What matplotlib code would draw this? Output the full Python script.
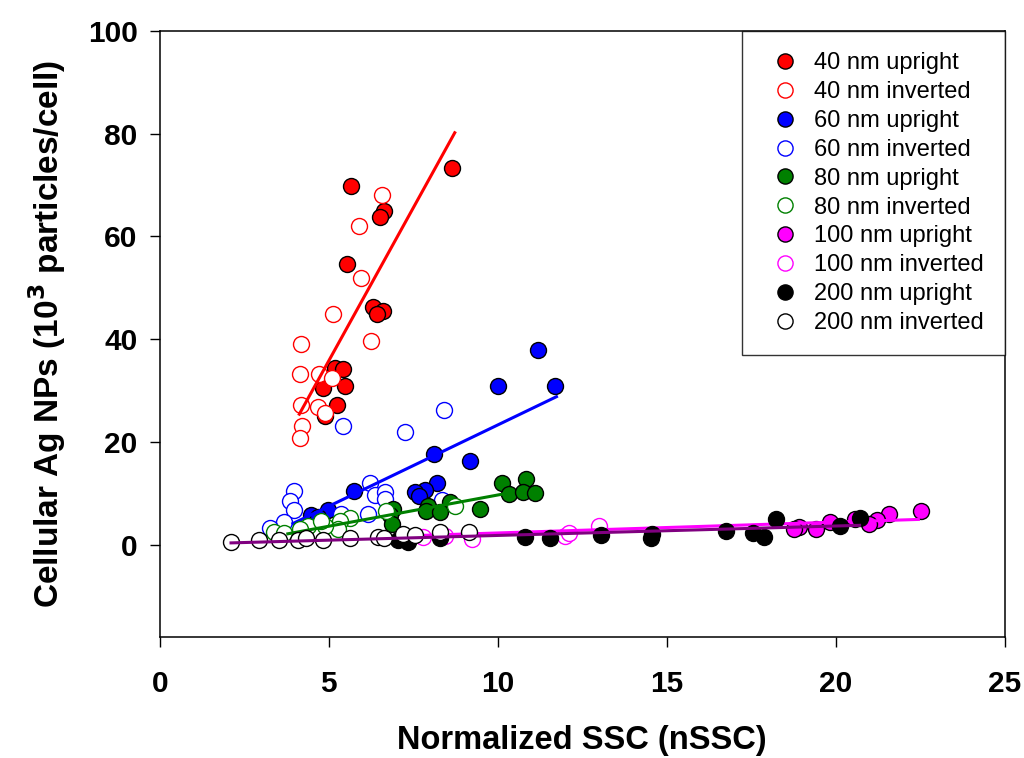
import matplotlib
matplotlib.use("Agg")
import matplotlib.pyplot as plt

plt.rcParams["font.family"] = ["Liberation Sans", "DejaVu Sans"]

# 40 nm
x40_up = [5.67, 8.64, 6.64, 6.53, 5.54, 6.31, 6.61, 6.44, 5.18, 5.42, 4.83, 5.47, 5.25, 4.90]
y40_up = [69.9, 73.3, 64.9, 63.8, 54.6, 46.2, 45.5, 44.9, 34.3, 34.2, 30.4, 30.8, 27.1, 25.0]
x40_inv = [6.59, 5.90, 5.95, 5.13, 6.26, 4.19, 4.14, 4.71, 5.11, 4.19, 4.68, 4.88, 4.21, 4.14]
y40_inv = [68.0, 62.1, 52.0, 45.0, 39.7, 39.0, 33.2, 33.2, 32.4, 27.2, 26.7, 25.6, 23.0, 20.7]
fit40_x = [4.13, 8.73]
fit40_y = [25.4, 80.2]

# 60 nm
x60_up = [11.19, 10.0, 11.69, 8.11, 9.17, 8.19, 7.85, 7.55, 7.67, 5.75, 4.98, 4.48, 4.68]
y60_up = [37.9, 30.9, 30.9, 17.6, 16.3, 12.0, 10.7, 10.2, 9.4, 10.4, 6.7, 5.7, 5.4]
x60_inv = [8.42, 5.42, 7.27, 3.97, 3.84, 3.97, 3.69, 3.25, 6.22, 6.37, 6.66, 6.68, 6.17, 5.37, 8.34]
y60_inv = [26.3, 23.0, 22.0, 10.4, 8.4, 6.7, 4.4, 3.2, 12.0, 9.6, 10.2, 8.9, 6.0, 6.0, 8.6]
fit60_x = [3.94, 11.74]
fit60_y = [4.1, 28.8]

# 80 nm
x80_up = [10.12, 10.84, 10.34, 10.74, 11.11, 9.48, 8.59, 7.95, 7.87, 8.29, 6.91, 6.81, 6.86]
y80_up = [12.0, 12.8, 9.9, 10.2, 10.1, 7.0, 8.3, 7.6, 6.5, 6.3, 7.0, 5.7, 4.1]
x80_inv = [8.74, 6.71, 5.62, 5.32, 5.27, 4.88, 4.38, 4.14, 3.39, 3.69, 4.78]
y80_inv = [7.6, 6.5, 5.2, 4.5, 3.1, 3.7, 3.7, 3.1, 2.5, 2.3, 4.5]
fit80_x = [3.79, 10.12]
fit80_y = [2.1, 9.8]

# 100 nm
x100_up = [22.52, 21.58, 21.23, 21.0, 20.57, 19.82, 19.43, 18.91, 18.78]
y100_up = [6.5, 6.0, 4.7, 4.1, 5.0, 4.4, 3.1, 3.4, 3.1]
x100_inv = [7.8, 8.44, 9.23, 12.0, 12.1, 13.0]
y100_inv = [1.5, 1.6, 1.0, 1.6, 2.2, 3.6]
fit100_x = [7.8, 22.45]
fit100_y = [1.8, 4.9]

# 200 nm
x200_up = [7.06, 7.36, 8.29, 10.82, 11.56, 13.05, 14.58, 14.53, 16.75, 17.55, 17.89, 18.24, 20.12, 20.71]
y200_up = [0.8, 0.5, 1.2, 1.5, 1.3, 1.8, 2.1, 1.2, 2.6, 2.3, 1.5, 4.9, 3.7, 5.2]
x200_inv = [2.11, 2.95, 3.54, 4.09, 4.33, 4.83, 5.62, 6.46, 6.65, 7.21, 7.55, 8.29, 9.14]
y200_inv = [0.5, 0.8, 0.8, 0.8, 1.2, 0.8, 1.2, 1.5, 1.3, 2.1, 1.8, 2.5, 2.5]
fit200_x = [2.11, 20.71]
fit200_y = [0.33, 3.75]

groups = [
    ("40 nm", "#ff0000", "#ff0000", x40_up, y40_up, x40_inv, y40_inv, fit40_x, fit40_y),
    ("60 nm", "#0000ff", "#0000ff", x60_up, y60_up, x60_inv, y60_inv, fit60_x, fit60_y),
    ("80 nm", "#008000", "#008000", x80_up, y80_up, x80_inv, y80_inv, fit80_x, fit80_y),
    ("100 nm", "#ff00ff", "#ff00ff", x100_up, y100_up, x100_inv, y100_inv, fit100_x, fit100_y),
    ("200 nm", "#000000", "#800080", x200_up, y200_up, x200_inv, y200_inv, fit200_x, fit200_y),
]

fig = plt.figure(figsize=(10.24, 7.58), dpi=100)
ax = fig.add_axes([0.156, 0.1596, 0.825, 0.7994])

ms = 11.5
for name, col, lcol, xu, yu, xi, yi, fx, fy in groups:
    ax.plot(xu, yu, "o", ls="none", ms=ms, mfc=col, mec="black", mew=1.0,
            label=f"{name} upright", zorder=3)
    ax.plot(xi, yi, "o", ls="none", ms=ms, mfc="white", mec=col, mew=1.0,
            label=f"{name} inverted", zorder=3)
    ax.plot(fx, fy, color=lcol, lw=2.2, zorder=3)

ax.set_xlim(0, 25)
ax.set_ylim(-18, 100)
ax.set_xticks([0, 5, 10, 15, 20, 25])
ax.set_yticks([0, 20, 40, 60, 80, 100])
ax.tick_params(direction="out", length=7, width=1, labelsize=21.5)
ax.tick_params(axis="x", pad=17)
ax.tick_params(axis="y", pad=9)
for lab in ax.get_xticklabels() + ax.get_yticklabels():
    lab.set_fontweight("bold")
for sp in ax.spines.values():
    sp.set_linewidth(1.1)

ax.set_xlabel("Normalized SSC (nSSC)", fontsize=23.5, fontweight="bold", labelpad=19)
ax.set_ylabel("Cellular Ag NPs (10$^\\mathbf{3}$ particles/cell)", fontsize=24,
              fontweight="bold", labelpad=14)

leg = ax.legend(loc="upper right", fontsize=17, frameon=True, fancybox=False,
                borderaxespad=0, borderpad=0.9, handletextpad=0.3,
                labelspacing=0.29, handlelength=1.85, markerscale=0.95)
leg.get_frame().set_edgecolor("black")
leg.get_frame().set_linewidth(1.0)

fig.savefig("out.png", dpi=100)
